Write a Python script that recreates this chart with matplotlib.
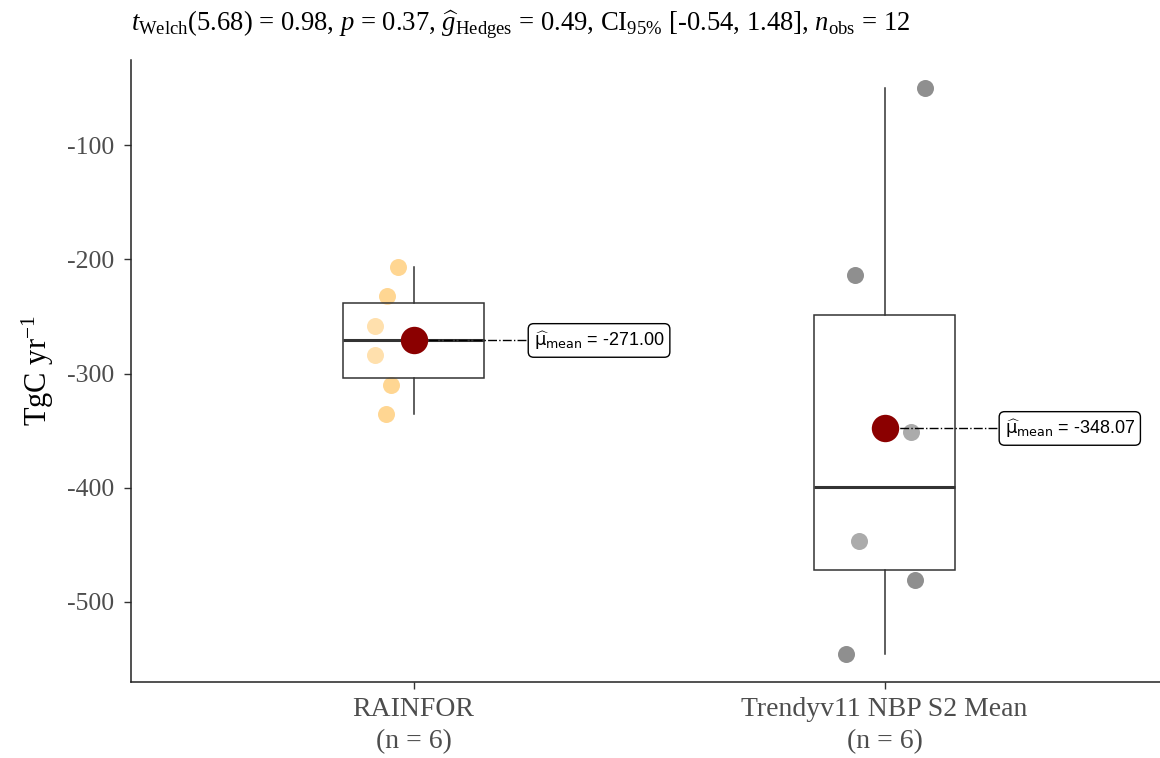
import numpy as np
import matplotlib
matplotlib.use("Agg")
import matplotlib.pyplot as plt

plt.rcParams['font.family'] = ['Liberation Serif', 'DejaVu Serif']
plt.rcParams['mathtext.fontset'] = 'custom'
plt.rcParams['mathtext.rm'] = 'Liberation Serif'
plt.rcParams['mathtext.it'] = 'Liberation Serif:italic'
plt.rcParams['axes.unicode_minus'] = False

# Annual carbon flux (TgC/yr) for each source
groups = ['RAINFOR', 'Trendyv11 NBP S2 Mean']
rainfor = [-207, -232, -258, -284, -310, -335]
trendy = [-50.2, -214.1, -351.3, -446.9, -480.6, -545.3]
# horizontal jitter of the raw points
rainfor_jitter = [-0.034, -0.057, -0.081, -0.081, -0.047, -0.059]
trendy_jitter = [0.085, -0.062, 0.057, -0.055, 0.064, -0.081]

point_colors = ['#FFA919', '#111111']
title = (r"$t_{\mathrm{Welch}}$(5.68) = 0.98, $p$ = 0.37, "
         r"$\widehat{g}_{\mathrm{Hedges}}$ = 0.49, CI$_{95\%}$ [-0.54, 1.48], "
         r"$n_{\mathrm{obs}}$ = 12")

data = [rainfor, trendy]
jitters = [rainfor_jitter, trendy_jitter]

fig = plt.figure(figsize=(11.6, 7.58), dpi=100)
ax = fig.add_axes([131 / 1160, 76 / 758, 1 - 131 / 1160, 622 / 758])

for i, (vals, jit, col) in enumerate(zip(data, jitters, point_colors)):
    x = i + 1 + np.array(jit)
    ax.scatter(x, vals, s=150, color=col, alpha=0.47, linewidths=0, zorder=2)

bp = ax.boxplot(data, positions=[1, 2], widths=0.3, whis=1.5, showcaps=False,
                showfliers=False, patch_artist=True, zorder=3)
for b in bp['boxes']:
    b.set_facecolor((1, 1, 1, 0.25))
    b.set_edgecolor('#333333')
    b.set_linewidth(1.1)
for w in bp['whiskers']:
    w.set_color('#333333')
    w.set_linewidth(1.1)
for m in bp['medians']:
    m.set_color('#333333')
    m.set_linewidth(2.2)

# group means with labels
for i, vals in enumerate(data):
    mu = np.mean(vals)
    pos = i + 1
    ax.plot([pos, pos + 0.242], [mu, mu], color='black', lw=1, ls='-.', zorder=4)
    ax.scatter([pos], [mu], s=390, color='#8B0000', zorder=5, linewidths=0)
    ax.text(pos + 0.255, mu, r"$\widehat{\mathrm{\mu}}_{\mathrm{mean}}$" + f" = {mu:.2f}",
            ha='left', va='center', fontsize=13, family='Liberation Sans',
            math_fontfamily='dejavusans', zorder=6,
            bbox=dict(boxstyle='round,pad=0.3,rounding_size=0.3', fc='white',
                      ec='black', lw=1))

ax.set_xlim(0.4, 2.585)
ax.set_ylim(-570.1, -25.4)
ax.set_xticks([1, 2])
ax.set_xticklabels([f"{g}\n(n = {len(d)})" for g, d in zip(groups, data)],
                   linespacing=1.35)
ax.set_yticks([-500, -400, -300, -200, -100])
ax.tick_params(axis='y', labelsize=18.5, pad=7)
ax.tick_params(axis='x', labelsize=20, pad=6)
ax.tick_params(axis='both', labelcolor='#4D4D4D', length=5,
               width=1, color='#333333')
ax.set_ylabel(r"TgC yr$^{\mathrm{-1}}$", fontsize=22, labelpad=8)

for side in ['top', 'right']:
    ax.spines[side].set_visible(False)
for side in ['left', 'bottom']:
    ax.spines[side].set_linewidth(1.1)
    ax.spines[side].set_color('#222222')

fig.text(131 / 1160, 1 - 25 / 758, title, fontsize=19.2, ha='left', va='center')

fig.savefig('out.png', dpi=100)
